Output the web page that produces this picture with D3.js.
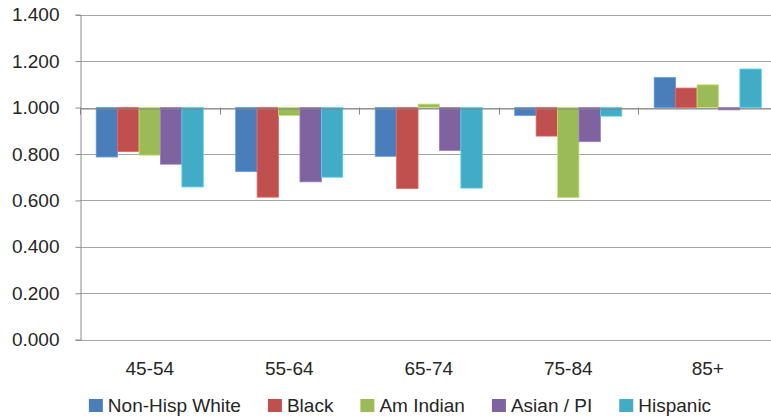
<!DOCTYPE html>
<html>
<head>
<meta charset="utf-8">
<script src="https://cdn.jsdelivr.net/npm/d3@7"></script>
<style>
  body { margin: 0; background: #fff; }
  text { font-family: "Liberation Sans", Arial, sans-serif; }
</style>
</head>
<body>
<div class="svg-container"></div>
<script>
//chart data
const ageGroups = ['45-54', '55-64', '65-74', '75-84', '85+'];
const seriesNames = ['Non-Hisp White', 'Black', 'Am Indian', 'Asian / PI', 'Hispanic'];
const seriesColors = ['#4a7ebb', '#c0504d', '#9bbb59', '#7f63a1', '#42abc6'];
//ratios per series, one value per age group
const nonHispWhite = [0.787, 0.724, 0.790, 0.966, 1.129];
const black        = [0.810, 0.614, 0.651, 0.877, 1.084];
const amIndian     = [0.795, 0.966, 1.015, 0.612, 1.098];
const asianPI      = [0.756, 0.680, 0.815, 0.853, 0.990];
const hispanic     = [0.658, 0.700, 0.653, 0.963, 1.166];
const yTicks = [0, 0.2, 0.4, 0.6, 0.8, 1.0, 1.2, 1.4];
const baseline = 1.0;

const seriesValues = [nonHispWhite, black, amIndian, asianPI, hispanic];

//dimensions
const W = 771, H = 416;
const plot = { left: 80, right: 777.5, top: 14.7, bottom: 339.7 };

const svg = d3.select('.svg-container')
    .append('svg')
    .attr('width', W)
    .attr('height', H);

//scales
const xScale = d3.scaleBand()
    .domain(ageGroups)
    .range([plot.left, plot.right]);

const xInner = d3.scaleBand()
    .domain(seriesNames)
    .range([16.2, xScale.bandwidth() - 16.2]);

const yScale = d3.scaleLinear()
    .domain([0, 1.4])
    .range([plot.bottom, plot.top]);

const fmt = d3.format('.3f');

//gridlines
svg.selectAll('.grid')
    .data(yTicks)
    .join('line')
    .attr('class', 'grid')
    .attr('x1', plot.left)
    .attr('x2', plot.right)
    .attr('y1', d => Math.round(yScale(d)) + 0.5)
    .attr('y2', d => Math.round(yScale(d)) + 0.5)
    .attr('stroke', '#a6a6a6')
    .attr('stroke-width', 1.2);

//y axis
const yAxis = d3.axisLeft(yScale)
    .tickValues(yTicks)
    .tickFormat(fmt)
    .tickSize(5)
    .tickPadding(16);

svg.append('g')
    .attr('class', 'y-axis')
    .attr('transform', `translate(${plot.left + 0.5}, 0)`)
    .call(yAxis)
    .call(g => g.selectAll('.domain').attr('stroke', '#8c8c8c'))
    .call(g => g.selectAll('.tick line').attr('stroke', '#8c8c8c'))
    .call(g => g.selectAll('.tick text')
        .attr('font-size', 19)
        .attr('font-family', '"Liberation Sans", Arial, sans-serif')
        .attr('fill', '#262626'));

//bars, anchored at the baseline value
const barData = [];
seriesNames.forEach((s, si) => {
    ageGroups.forEach((g, gi) => {
        barData.push({ series: s, group: g, value: seriesValues[si][gi], color: seriesColors[si] });
    });
});

svg.selectAll('.bar')
    .data(barData)
    .join('rect')
    .attr('class', 'bar')
    .attr('x', d => xScale(d.group) + xInner(d.series))
    .attr('width', xInner.bandwidth())
    .attr('y', d => yScale(Math.max(d.value, baseline)))
    .attr('height', d => Math.abs(yScale(d.value) - yScale(baseline)))
    .attr('fill', d => d.color)
    .attr('stroke', d => d3.color(d.color).brighter(0.6))
    .attr('stroke-width', 0.8);

//category axis crossing at baseline
const xAxis = d3.axisBottom(xScale).tickSize(0).tickFormat('');
svg.append('g')
    .attr('transform', `translate(0, ${Math.round(yScale(baseline)) + 0.5})`)
    .call(xAxis)
    .call(g => g.select('.domain').attr('stroke', '#868686').attr('stroke-width', 1.2));

//category tick marks at group boundaries
svg.selectAll('.cat-tick')
    .data(ageGroups)
    .join('line')
    .attr('class', 'cat-tick')
    .attr('x1', d => Math.round(xScale(d)) + 0.5)
    .attr('x2', d => Math.round(xScale(d)) + 0.5)
    .attr('y1', yScale(baseline))
    .attr('y2', yScale(baseline) + 7)
    .attr('stroke', '#868686');

//category labels
svg.selectAll('.cat-label')
    .data(ageGroups)
    .join('text')
    .attr('class', 'cat-label')
    .attr('x', d => xScale(d) + xScale.bandwidth() / 2)
    .attr('y', 374.5)
    .attr('text-anchor', 'middle')
    .attr('font-size', 19)
    .attr('fill', '#262626')
    .text(d => d);

//legend
const legend = svg.append('g').attr('class', 'legend');
const items = legend.selectAll('.item')
    .data(seriesNames)
    .join('g')
    .attr('class', 'item');

items.append('rect')
    .attr('width', 14)
    .attr('height', 13)
    .attr('y', 399)
    .attr('fill', (d, i) => seriesColors[i]);

items.append('text')
    .attr('x', 19)
    .attr('y', 411.5)
    .attr('font-size', 19)
    .attr('fill', '#262626')
    .text(d => d);

let xpos = 0;
const offsets = [];
items.each(function() {
    offsets.push(xpos);
    const w = d3.select(this).select('text').node().getComputedTextLength();
    xpos += 19 + w + 27;
});
const total = xpos - 27;
const startX = 400 - total / 2;
items.attr('transform', (d, i) => `translate(${startX + offsets[i]}, 0)`);
</script>
</body>
</html>
